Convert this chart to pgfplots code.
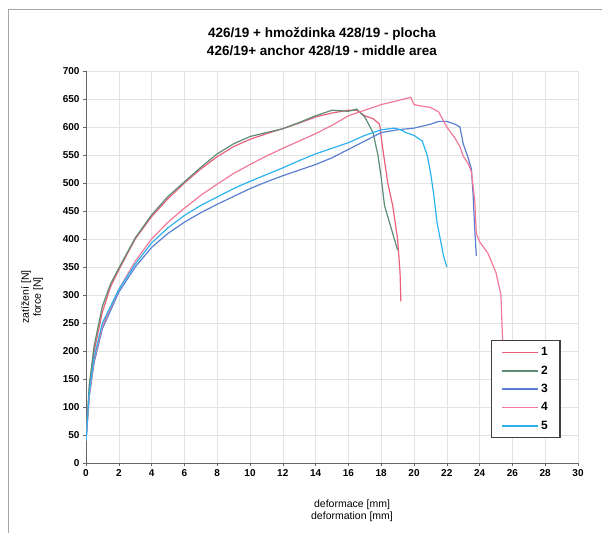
\documentclass[border=0pt]{standalone}
\usepackage{pgfplots}
\pgfplotsset{compat=1.18}
\usepackage{fontspec}
\setmainfont{Liberation Sans}

\definecolor{c1}{HTML}{E8607A}
\definecolor{c2}{HTML}{5E8C74}
\definecolor{c3}{HTML}{5A7FD0}
\definecolor{c4}{HTML}{F27A98}
\definecolor{c5}{HTML}{2DB2F0}

\begin{document}
\begin{tikzpicture}[x=1pt,y=1pt]
\useasboundingbox (0,0) rectangle (602,533);
\draw[gray!70, line width=1pt] (8,0) -- (8,523) -- (602,523);

\node[font=\fontsize{13.5}{15}\selectfont\bfseries] at (322,499) {426/19 + hmoždinka 428/19 - plocha};
\node[font=\fontsize{13.5}{15}\selectfont\bfseries] at (322,482) {426/19+ anchor 428/19 - middle area};
\node[font=\fontsize{10.5}{12}\selectfont, align=center] at (352,22) {deformace [mm]\\deformation [mm]};
\node[font=\fontsize{10.5}{12}\selectfont, align=center, rotate=90] at (32,236) {zatížení [N]\\force [N]};

\begin{axis}[
    at={(86pt,70pt)}, anchor=south west,
    scale only axis,
    width=492pt, height=392pt,
    xmin=0, xmax=30, ymin=0, ymax=700,
    xtick distance=2, ytick distance=50,
    axis lines=left,
    axis line style={-, line width=0.8pt, gray!80!black},
    tick style={gray!80!black, line width=0.6pt},
    tick align=outside,
    major tick length=3pt,
    grid=major,
    major grid style={line width=0.5pt, draw=gray!22},
    ticklabel style={font=\fontsize{10}{12}\selectfont\bfseries},
    /pgf/number format/assume math mode=true,
    legend style={
        at={(0.823,0.314)}, anchor=north west,
        draw=black!75, line width=1.4pt, fill=white,
        font=\fontsize{12}{14}\selectfont\bfseries,
        inner xsep=10pt, inner ysep=5pt,
        row sep=4.5pt,
    },
    legend image code/.code={\draw[#1] (0pt,0pt) -- (36pt,0pt);},
    legend image post style={line width=1.6pt},
    legend cell align=left,
    every axis plot/.append style={line width=1.2pt},
]
\addplot[c1] coordinates {
 (0,40) (0.2,130) (0.5,200) (1,270) (1.5,315) (2,345) (3,400) (4,440) (5,472)
 (6,500) (7,525) (8,547) (9,565) (10,578) (11,588) (12,597) (13,607) (14,618)
 (15,625) (16,630) (16.5,630) (17,620) (17.5,615) (17.9,605) (18.1,560)
 (18.4,500) (18.7,460) (19,400) (19.15,340) (19.2,288)
};
\addlegendentry{1}
\addplot[c2] coordinates {
 (0,40) (0.2,140) (0.5,210) (1,280) (1.5,320) (2,348) (3,402) (4,443) (5,476)
 (6,502) (7,528) (8,552) (9,570) (10,583) (11,590) (12,597) (13,608) (14,620)
 (15,630) (16,628) (16.5,632) (17,618) (17.5,590) (17.8,550) (18,510)
 (18.2,460) (18.5,430) (18.8,400) (19,380)
};
\addlegendentry{2}
\addplot[c3] coordinates {
 (0,40) (0.2,120) (0.5,180) (1,240) (2,305) (3,350) (4,385) (5,410) (6,430)
 (7,447) (8,462) (9,476) (10,490) (11,502) (12,513) (13,523) (14,533) (15,545)
 (16,560) (17,575) (18,590) (19,595) (20,598) (21,605) (21.5,610) (22,610)
 (22.5,605) (22.8,600) (23,570) (23.3,545) (23.5,525) (23.6,480) (23.7,420)
 (23.8,370)
};
\addlegendentry{3}
\addplot[c4] coordinates {
 (0,40) (0.2,120) (0.5,185) (1,245) (2,310) (3,360) (4,400) (5,430) (6,455)
 (7,478) (8,498) (9,517) (10,533) (11,548) (12,562) (13,575) (14,588) (15,603)
 (16,620) (17,630) (18,640) (19,647) (19.8,653) (20,640) (20.5,637) (21,635)
 (21.5,627) (22,600) (22.5,580) (22.8,565) (23,548) (23.3,535) (23.5,520)
 (23.7,470) (23.8,410) (24,395) (24.5,375) (25,340) (25.3,300) (25.4,220)
 (25.4,180)
};
\addlegendentry{4}
\addplot[c5] coordinates {
 (0,40) (0.2,125) (0.5,190) (1,250) (2,310) (3,355) (4,393) (5,420) (6,442)
 (7,460) (8,475) (9,490) (10,503) (11,515) (12,527) (13,540) (14,552) (15,562)
 (16,572) (17,585) (18,595) (18.8,598) (19.2,595) (19.5,590) (20,585)
 (20.5,575) (20.8,550) (21,520) (21.2,480) (21.4,430) (21.6,400) (21.8,370)
 (22,350)
};
\addlegendentry{5}
\end{axis}
\end{tikzpicture}
\end{document}
